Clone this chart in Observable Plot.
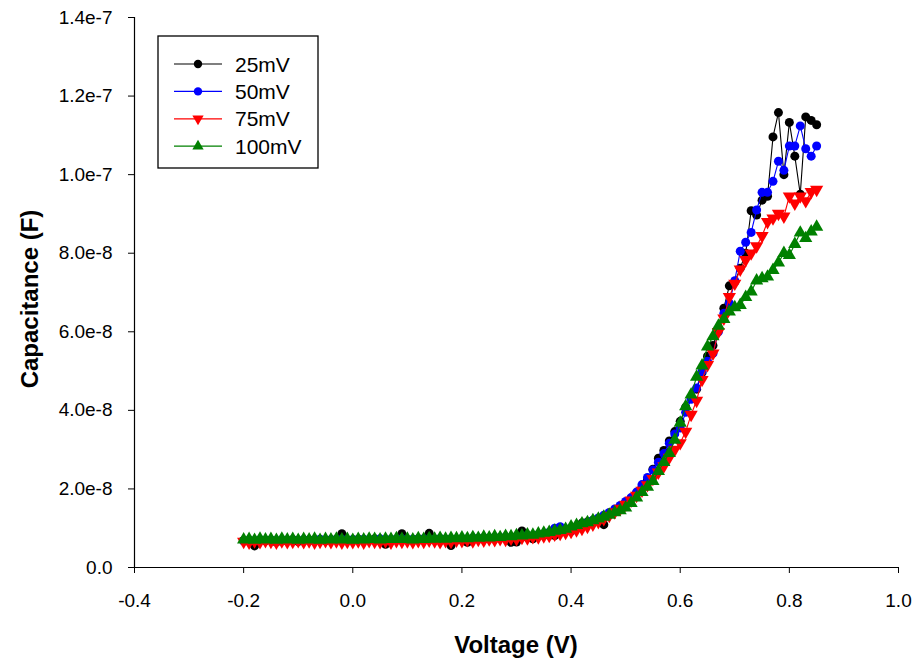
<!DOCTYPE html>
<html><head><meta charset="utf-8">
<script src="https://cdn.jsdelivr.net/npm/d3@7"></script>
<script src="https://cdn.jsdelivr.net/npm/@observablehq/plot@0.6"></script>
<style>
body{margin:0;background:#fff;}
#chart{position:relative;width:917px;height:662px;font-family:Arial,"Liberation Sans",sans-serif;color:#000;}
.ttl{position:absolute;font-weight:bold;font-size:24px;white-space:nowrap;}
</style></head><body><div id="chart"></div>
<script>
// Voltage sweep (V)
const voltage = [
 -0.20,-0.19,-0.18,-0.17,-0.16,-0.15,-0.14,-0.13,-0.12,-0.11,
 -0.10,-0.09,-0.08,-0.07,-0.06,-0.05,-0.04,-0.03,-0.02,-0.01,
 0.00,0.01,0.02,0.03,0.04,0.05,0.06,0.07,0.08,0.09,
 0.10,0.11,0.12,0.13,0.14,0.15,0.16,0.17,0.18,0.19,
 0.20,0.21,0.22,0.23,0.24,0.25,0.26,0.27,0.28,0.29,
 0.30,0.31,0.32,0.33,0.34,0.35,0.36,0.37,0.38,0.39,
 0.40,0.41,0.42,0.43,0.44,0.45,0.46,0.47,0.48,0.49,
 0.50,0.51,0.52,0.53,0.54,0.55,0.56,0.57,0.58,0.59,
 0.60,0.61,0.62,0.63,0.64,0.65,0.66,0.67,0.68,0.69,
 0.70,0.71,0.72,0.73,0.74,0.75,0.76,0.77,0.78,0.79,
 0.80,0.81,0.82,0.83,0.84,0.85];
// Capacitance in nF for each amplitude
const c25 = [
 6.9,6.6,5.5,6.9,6.8,7.0,6.5,6.9,6.7,7.1,
 6.6,6.9,7.0,6.7,7.1,6.8,7.0,7.2,8.6,6.9,
 7.0,7.2,6.9,7.1,7.3,6.8,5.9,7.0,7.2,8.6,
 7.1,6.9,7.3,7.0,8.7,7.0,7.3,7.1,5.6,7.0,
 7.2,6.4,7.3,7.4,7.2,7.5,7.3,7.6,7.4,6.4,
 6.5,9.3,7.6,7.3,8.0,8.4,8.2,8.1,9.4,9.6,
 9.9,10.3,11.3,11.6,12.0,12.5,10.9,13.8,14.6,15.5,
 16.6,17.6,18.9,20.5,22.4,25.0,27.8,29.8,32.2,34.6,
 37.2,40.8,43.2,45.4,49.6,53.8,56.5,60.5,66.0,71.7,
 72.7,76.2,80.0,90.8,89.7,93.5,94.5,109.6,115.8,100.0,
 113.3,104.7,95.0,114.7,113.8,112.7];
const c50 = [
 6.7,7.0,6.8,7.1,6.9,7.0,6.8,7.1,6.9,7.0,
 6.9,7.1,6.8,7.0,7.2,6.9,7.1,7.0,7.2,6.9,
 7.1,7.0,7.2,6.9,7.1,7.3,7.0,7.2,7.1,7.3,
 7.0,7.2,7.1,7.3,7.1,7.2,7.4,7.1,7.3,7.2,
 7.4,7.2,7.5,7.3,7.6,7.4,7.7,7.5,7.8,7.6,
 7.9,7.8,8.2,8.1,8.4,8.6,9.0,10.0,10.4,9.8,
 9.2,10.3,10.8,11.4,12.0,12.6,13.3,14.0,14.9,15.8,
 16.8,17.8,19.2,21.1,22.9,24.8,26.8,29.0,31.6,34.0,
 35.5,39.5,42.8,45.7,49.9,52.5,54.5,60.0,64.7,67.3,
 73.0,80.5,82.8,85.3,91.0,95.5,95.5,98.3,103.4,101.1,
 107.3,107.3,112.4,106.6,104.7,107.3];
const c75 = [
 6.6,6.4,6.7,6.5,6.8,6.6,6.4,6.7,6.5,6.6,
 6.8,6.5,6.7,6.4,6.6,6.8,6.5,6.7,6.4,6.6,
 6.5,6.7,6.4,6.8,6.6,6.5,6.7,6.4,6.8,6.6,
 6.7,6.5,6.8,6.6,6.9,6.7,6.5,6.8,6.6,6.9,
 6.8,7.0,6.7,7.1,6.9,7.2,7.0,7.3,7.1,7.4,
 7.3,7.6,7.5,7.8,7.7,8.0,8.1,8.4,8.6,8.9,
 9.1,9.5,9.9,10.4,11.0,11.6,12.4,13.2,14.1,15.0,
 16.0,17.1,18.3,19.6,21.0,22.6,24.2,25.8,28.0,30.0,
 31.7,34.6,38.9,42.5,47.8,51.6,54.5,60.0,63.4,68.9,
 72.3,75.9,78.3,80.0,81.8,84.4,88.0,88.9,90.1,89.4,
 94.5,92.7,94.5,93.3,95.6,96.2];
const c100 = [
 7.1,7.2,7.0,7.3,7.1,7.2,7.0,7.3,7.1,7.2,
 7.0,7.2,7.1,7.3,7.0,7.2,7.1,7.3,7.1,7.2,
 7.0,7.2,7.1,7.3,7.2,7.1,7.3,7.2,7.4,7.2,
 7.3,7.1,7.4,7.2,7.4,7.3,7.5,7.3,7.5,7.4,
 7.6,7.4,7.7,7.5,7.8,7.6,7.9,7.7,8.0,7.9,
 8.2,8.1,8.4,8.3,8.6,8.8,9.0,9.3,9.5,9.8,
 10.4,10.8,11.2,11.5,12.0,12.4,12.9,13.4,14.0,14.5,
 15.2,16.4,17.8,19.2,20.5,22.0,24.5,26.8,29.1,32.5,
 36.8,41.0,44.0,48.5,51.4,56.2,58.8,61.5,63.2,65.1,
 66.2,66.8,68.8,70.2,73.0,73.6,74.0,75.7,77.6,80.0,
 79.5,82.3,85.2,83.8,85.5,86.7];

const seriesNames = ["25mV","50mV","75mV","100mV"];
const seriesValues = [c25, c50, c75, c100];
const seriesColors = ["#000000","#0000ff","#ff0000","#008000"];
const xTicks = [-0.4,-0.2,0.0,0.2,0.4,0.6,0.8,1.0];
const yTicks = [0,2e-8,4e-8,6e-8,8e-8,1e-7,1.2e-7,1.4e-7];
const xTitle = "Voltage (V)";
const yTitle = "Capacitance (F)";

const triangleDown = {
  draw(ctx, size) {
    const y = -Math.sqrt(size / (Math.sqrt(3) * 3));
    ctx.moveTo(0, -y * 2);
    ctx.lineTo(-Math.sqrt(3) * y, y);
    ctx.lineTo(Math.sqrt(3) * y, y);
    ctx.closePath();
  }
};
const seriesSymbols = ["circle","circle",triangleDown,"triangle"];
const seriesR = [4.5,4.5,4.9,4.9];

const tables = seriesValues.map((vals, k) => voltage.map((v, i) => ({v, c: vals[i] * 1e-9, s: seriesNames[k]})));

const fmtY = d => d === 0 ? "0.0" : d.toExponential(1);
const fmtX = d => (Math.abs(d) < 1e-9 ? 0 : d).toFixed(1);

const marks = [
  Plot.axisX({ticks: xTicks, tickFormat: fmtX, tickSize: 6, tickPadding: 20, fontSize: 19, label: null}),
  Plot.axisY({ticks: yTicks, tickFormat: fmtY, tickSize: 6, tickPadding: 16, fontSize: 19, label: null}),
  Plot.ruleX([xTicks[0]], {stroke: "#000", strokeWidth: 1.2}),
  Plot.ruleY([yTicks[0]], {stroke: "#000", strokeWidth: 1.2})
];
tables.forEach((t, k) => {
  marks.push(Plot.line(t, {x: "v", y: "c", stroke: seriesColors[k], strokeWidth: 1.1}));
  marks.push(Plot.dot(t, {x: "v", y: "c", fill: seriesColors[k], stroke: "none", r: seriesR[k], symbol: seriesSymbols[k]}));
});

const plot = Plot.plot({
  width: 917, height: 662,
  marginLeft: 134, marginRight: 19, marginTop: 17, marginBottom: 95,
  x: {domain: [-0.4, 1.0]},
  y: {domain: [0, 1.4e-7]},
  style: {fontFamily: "Arial, 'Liberation Sans', sans-serif", color: "#000", background: "#fff"},
  marks
});
const chart = document.getElementById("chart");
chart.appendChild(plot);

// Axis titles
const xt = document.createElement("div");
xt.className = "ttl"; xt.textContent = xTitle;
xt.style.left = "516px"; xt.style.top = "645px"; xt.style.transform = "translate(-50%,-50%)";
chart.appendChild(xt);
const yt = document.createElement("div");
yt.className = "ttl"; yt.textContent = yTitle;
yt.style.left = "30px"; yt.style.top = "299px"; yt.style.transform = "translate(-50%,-50%) rotate(-90deg)";
chart.appendChild(yt);

// Legend
const lg = d3.select(chart).append("svg")
  .attr("width", 164).attr("height", 136)
  .style("position", "absolute").style("left", "156px").style("top", "34px");
lg.append("rect").attr("x", 2).attr("y", 2).attr("width", 160).attr("height", 132)
  .attr("fill", "#fff").attr("stroke", "#000").attr("stroke-width", 1.3);
seriesNames.forEach((name, k) => {
  const cy = 30 + k * 27.4;
  lg.append("line").attr("x1", 18).attr("x2", 66).attr("y1", cy).attr("y2", cy)
    .attr("stroke", seriesColors[k]).attr("stroke-width", 1.2);
  const sym = typeof seriesSymbols[k] === "string"
    ? (seriesSymbols[k] === "circle" ? d3.symbolCircle : d3.symbolTriangle) : seriesSymbols[k];
  lg.append("path").attr("d", d3.symbol(sym, Math.PI * 4.2 * 4.2)())
    .attr("transform", `translate(42,${cy})`).attr("fill", seriesColors[k]);
  lg.append("text").attr("x", 79).attr("y", cy).attr("dy", "0.36em")
    .attr("font-size", 21).attr("font-family", "Arial, 'Liberation Sans', sans-serif")
    .text(name);
});
</script></body></html>
